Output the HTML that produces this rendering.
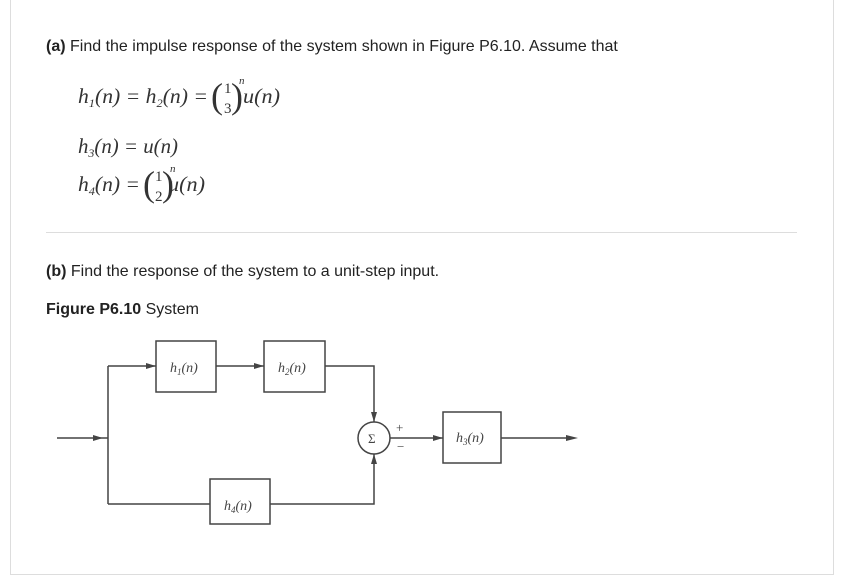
<!DOCTYPE html>
<html><head><style>
body{margin:0;width:841px;height:578px;background:#fff;font-family:"Liberation Sans",sans-serif;color:#222;position:relative;overflow:hidden}
.panel{position:absolute;left:10px;top:-2px;width:824px;height:577px;border:1px solid #ddd;box-sizing:border-box}
.t{position:absolute;font-size:16px;white-space:nowrap}
.hr{position:absolute;left:46px;top:232px;width:751px;height:1px;background:#ddd}
</style></head><body>
<div class="panel"></div>
<div class="t" style="left:46px;top:38px"><b>(a)</b> Find the impulse response of the system shown in Figure P6.10. Assume that</div>
<svg style="position:absolute;left:0;top:0" width="841" height="578" font-family="Liberation Serif,serif" font-style="italic" fill="#333">
<g font-size="21">
<text x="78" y="103" textLength="130" lengthAdjust="spacingAndGlyphs">h<tspan font-size="12" dy="4">1</tspan><tspan dy="-4">(n) = h</tspan><tspan font-size="12" dy="4">2</tspan><tspan dy="-4">(n) =</tspan></text>
<text x="78" y="153" textLength="100" lengthAdjust="spacingAndGlyphs">h<tspan font-size="12" dy="4">3</tspan><tspan dy="-4">(n) = u(n)</tspan></text>
<text x="78" y="191" textLength="62" lengthAdjust="spacingAndGlyphs">h<tspan font-size="12" dy="4">4</tspan><tspan dy="-4">(n) =</tspan></text>
<text x="243" y="103" textLength="37" lengthAdjust="spacingAndGlyphs">u(n)</text>
<text x="168" y="191" textLength="37" lengthAdjust="spacingAndGlyphs">u(n)</text>
</g>
<g font-style="normal" font-size="15">
<text x="211" y="108" font-size="36">(</text><text x="224" y="93">1</text><text x="224" y="113">3</text><text x="231" y="108" font-size="36">)</text><text x="239" y="84" font-size="11" font-style="italic">n</text>
<text x="143" y="196" font-size="36">(</text><text x="155" y="181">1</text><text x="155" y="201">2</text><text x="162" y="196" font-size="36">)</text><text x="170" y="172" font-size="11" font-style="italic">n</text>
</g>
<g stroke="#444" stroke-width="1.5" fill="none">
<path d="M57 438H108M108 366V504M108 366H156M216 366H264M325 366H374V422M108 504H210M270 504H374V454M390 438H443M501 438H568"/>
<rect x="156" y="341" width="60" height="51"/><rect x="264" y="341" width="61" height="51"/>
<rect x="210" y="479" width="60" height="45"/><rect x="443" y="412" width="58" height="51"/>
<circle cx="374" cy="438" r="16"/>
</g>
<g fill="#444">
<path d="M103 438l-10-3v6z"/><path d="M156 366l-10-3v6z"/><path d="M264 366l-10-3v6z"/>
<path d="M374 422l-3-10h6z"/><path d="M374 454l-3 10h6z"/><path d="M443 438l-10-3v6z"/><path d="M578 438l-12-3v6z"/>
</g>
<g font-size="14" fill="#444">
<text x="170" y="372">h<tspan font-size="9" dy="3">1</tspan><tspan dy="-3">(n)</tspan></text>
<text x="278" y="372">h<tspan font-size="9" dy="3">2</tspan><tspan dy="-3">(n)</tspan></text>
<text x="224" y="510">h<tspan font-size="9" dy="3">4</tspan><tspan dy="-3">(n)</tspan></text>
<text x="456" y="442">h<tspan font-size="9" dy="3">3</tspan><tspan dy="-3">(n)</tspan></text>
<text x="368" y="443" font-style="normal" font-size="13">Σ</text>
<text x="396" y="432" font-style="normal" font-size="13">+</text>
<text x="397" y="451" font-style="normal" font-size="13">−</text>
</g>
</svg>
<div class="hr"></div>
<div class="t" style="left:46px;top:263px"><b>(b)</b> Find the response of the system to a unit-step input.</div>
<div class="t" style="left:46px;top:301px"><b>Figure P6.10</b> System</div>
</body></html>
